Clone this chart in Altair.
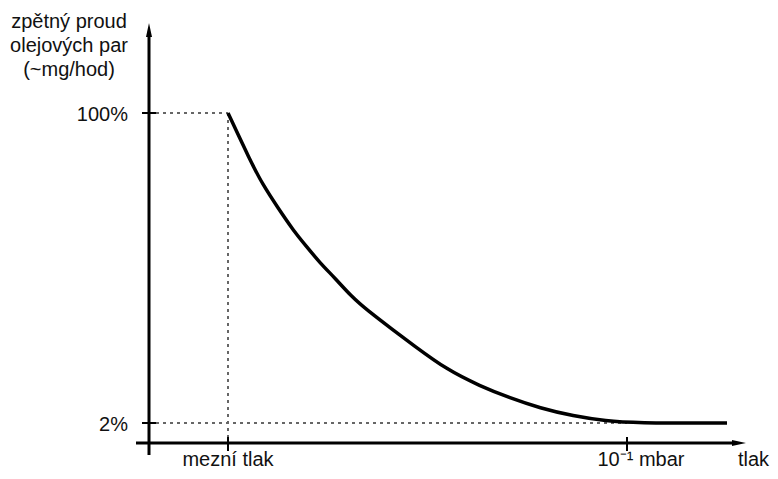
import altair as alt
import pandas as pd

# ---- data (arbitrary pressure units, backflow in %) ----
pressure = [79, 101, 114, 129, 144, 158, 171, 186, 203, 218, 244, 264,
            298, 331, 361, 391, 424, 458, 484, 578]
backflow = [100, 85.1, 77.2, 70.0, 63.0, 57.6, 52.6, 47.8, 41.8, 37.7, 31.4,
            26.7, 18.8, 13.7, 9.9, 6.7, 4.2, 2.6, 2.0, 2.0]

y_ticks = [100, 2]
y_tick_labels = ["100%", "2%"]
x_ticks = [79, 478]
x_tick_labels = ["mezní tlak", "10⁻¹ mbar"]
x_title = "tlak"
y_title = ["zpětný proud", "olejových par", "(~mg/hod)"]

# ---- layout constants (in data units of the scales) ----
X_DOMAIN = [-141, 621]
Y_DOMAIN = [-13.18, 133.19]
AXIS_Y = -4.33          # where the pressure axis sits
FONT = "Liberation Sans"
FS = 20
LABEL_DY = 23

xs = alt.Scale(domain=X_DOMAIN, nice=False, zero=False)
ys = alt.Scale(domain=Y_DOMAIN, nice=False, zero=False)


def X(f):
    return alt.X(f, type="quantitative", scale=xs, axis=None)


def Y(f):
    return alt.Y(f, type="quantitative", scale=ys, axis=None)


curve_df = pd.DataFrame({"x": pressure, "y": backflow})

guides_df = pd.DataFrame({
    "x": [0, x_ticks[0], 0],
    "x2": [x_ticks[0], x_ticks[0], x_ticks[1]],
    "y": [y_ticks[0], y_ticks[0], y_ticks[1]],
    "y2": [y_ticks[0], AXIS_Y, y_ticks[1]],
})

axes_df = pd.DataFrame({
    "x": [-13, 0], "x2": [585, 0],
    "y": [AXIS_Y, -8.12], "y2": [AXIS_Y, 125],
})

yt_df = pd.DataFrame({"x": [-7] * 2, "x2": [7] * 2, "y": y_ticks, "y2": y_ticks})
xt_df = pd.DataFrame({"x": x_ticks, "x2": x_ticks, "y": [-2.43] * 2, "y2": [-6.85] * 2})

guides = alt.Chart(guides_df).mark_rule(
    color="#666", strokeWidth=2, strokeDash=[3, 4]
).encode(x=X("x"), x2="x2", y=Y("y"), y2="y2")

axes = alt.Chart(axes_df).mark_rule(color="black", strokeWidth=3).encode(
    x=X("x"), x2="x2", y=Y("y"), y2="y2")

yticks = alt.Chart(yt_df).mark_rule(color="black", strokeWidth=2).encode(
    x=X("x"), x2="x2", y=Y("y"), y2="y2")
xticks = alt.Chart(xt_df).mark_rule(color="black", strokeWidth=2).encode(
    x=X("x"), x2="x2", y=Y("y"), y2="y2")

arrow_up = alt.Chart(pd.DataFrame({"x": [0], "y": [126.2]})).mark_point(
    shape="M0,-1L0.43,1L-0.43,1Z", filled=True, size=196, color="black", opacity=1
).encode(x=X("x"), y=Y("y"))
arrow_right = alt.Chart(pd.DataFrame({"x": [590], "y": [AXIS_Y]})).mark_point(
    shape="M1,0L-1,0.43L-1,-0.43Z", filled=True, size=196, color="black", opacity=1
).encode(x=X("x"), y=Y("y"))

curve = alt.Chart(curve_df).mark_line(
    color="black", strokeWidth=3.5, interpolate="basis"
).encode(x=X("x"), y=Y("y"))

ylab = alt.Chart(pd.DataFrame({"x": [-21] * 2, "y": y_ticks, "t": y_tick_labels})).mark_text(
    align="right", baseline="alphabetic", dy=8, font=FONT, fontSize=FS, color="#111"
).encode(x=X("x"), y=Y("y"), text="t:N")

xlab = alt.Chart(pd.DataFrame({"x": [x_ticks[0], 492],
                               "y": [AXIS_Y] * 2,
                               "t": x_tick_labels})).mark_text(
    align="center", baseline="alphabetic", dy=LABEL_DY, font=FONT, fontSize=FS, color="#111"
).encode(x=X("x"), y=Y("y"), text="t:N")

xtitle = alt.Chart(pd.DataFrame({"x": [620], "y": [AXIS_Y], "t": [x_title]})).mark_text(
    align="right", baseline="alphabetic", dy=LABEL_DY, font=FONT, fontSize=FS, color="#111"
).encode(x=X("x"), y=Y("y"), text="t:N")

ytitle = alt.Chart(pd.DataFrame({"x": [-80] * 3, "y": [126.87, 119.28, 111.69],
                                 "t": y_title})).mark_text(
    align="center", baseline="alphabetic", font=FONT, fontSize=FS, color="#111"
).encode(x=X("x"), y=Y("y"), text="t:N")

chart = alt.layer(
    guides, axes, yticks, xticks, arrow_up, arrow_right, curve,
    ylab, xlab, xtitle, ytitle
).properties(
    width=762, height=463,
    padding=0,
    background="white",
    autosize=alt.AutoSizeParams(type="none"),
).configure_view(stroke=None)

chart.save("out.html", embed_options={"renderer": "svg", "actions": False})
